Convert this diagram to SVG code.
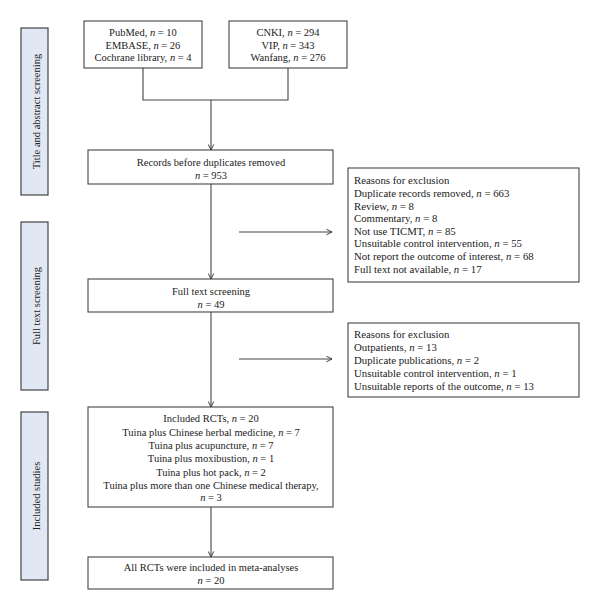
<svg xmlns="http://www.w3.org/2000/svg" width="600" height="612" viewBox="0 0 600 612">
<defs>
<marker id="arr" viewBox="0 0 10 10" refX="9" refY="5" markerWidth="7" markerHeight="7" orient="auto" markerUnits="userSpaceOnUse">
<polyline points="1,1 9,5 1,9" fill="none" stroke="#333" stroke-width="1.3"/>
</marker>
</defs>
<style>
text{font-family:"Liberation Serif","Times New Roman",serif;font-size:10.5px;fill:#222}
.c{text-anchor:middle}
.x{font-size:10.8px}
.box{fill:#fff;stroke:#444;stroke-width:1.1}
.bar{fill:#e1e8f3;stroke:#444;stroke-width:1.2}
.ln{fill:none;stroke:#444;stroke-width:1.1}
</style>
<rect width="600" height="612" fill="#fff"/>
<g id="bar-title">
<rect class="bar" x="21" y="28" width="27" height="167"/>
<text class="c" transform="translate(39.5,111.5) rotate(-90)">Title and abstract screening</text>
</g>
<g id="bar-fulltext">
<rect class="bar" x="21" y="222" width="27" height="168"/>
<text class="c" transform="translate(39.5,306) rotate(-90)">Full text screening</text>
</g>
<g id="bar-included">
<rect class="bar" x="21" y="412" width="27" height="168"/>
<text class="c" transform="translate(39.5,496) rotate(-90)">Included studies</text>
</g>
<g id="connectors">
<polyline class="ln" points="143,68 143,100 288,100 288,68"/>
<line class="ln" x1="211" y1="100" x2="211" y2="150" marker-end="url(#arr)"/>
<line class="ln" x1="211" y1="184" x2="211" y2="279" marker-end="url(#arr)"/>
<line class="ln" x1="239" y1="232" x2="332" y2="232" marker-end="url(#arr)"/>
<line class="ln" x1="211" y1="312" x2="211" y2="407" marker-end="url(#arr)"/>
<line class="ln" x1="239" y1="359" x2="332" y2="359" marker-end="url(#arr)"/>
<line class="ln" x1="211" y1="507" x2="211" y2="557" marker-end="url(#arr)"/>
</g>
<g id="db-english">
<rect class="box" x="84" y="21" width="118" height="47"/>
<text class="c" x="143" y="36">PubMed, <tspan font-style="italic">n</tspan> = 10</text>
<text class="c" x="143" y="48.5">EMBASE, <tspan font-style="italic">n</tspan> = 26</text>
<text class="c" x="143" y="61">Cochrane library,  <tspan font-style="italic">n</tspan> = 4</text>
</g>
<g id="db-chinese">
<rect class="box" x="229" y="21" width="118" height="47"/>
<text class="c" x="288" y="36">CNKI, <tspan font-style="italic">n</tspan> = 294</text>
<text class="c" x="288" y="48.5">VIP, <tspan font-style="italic">n</tspan> = 343</text>
<text class="c" x="288" y="61">Wanfang, <tspan font-style="italic">n</tspan> = 276</text>
</g>
<g id="records">
<rect class="box" x="88" y="150" width="245" height="34"/>
<text class="c" x="211" y="166">Records before duplicates removed</text>
<text class="c" x="211" y="178.5"><tspan font-style="italic">n</tspan> = 953</text>
</g>
<g id="exclusion1">
<rect class="box" x="348" y="168" width="231" height="114"/>
<text class="x" x="354" y="184">Reasons for exclusion</text>
<text class="x" x="354" y="197">Duplicate records removed, <tspan font-style="italic">n</tspan> = 663</text>
<text class="x" x="354" y="209.5">Review, <tspan font-style="italic">n</tspan> = 8</text>
<text class="x" x="354" y="222">Commentary, <tspan font-style="italic">n</tspan> = 8</text>
<text class="x" x="354" y="234.5">Not use TICMT, <tspan font-style="italic">n</tspan> = 85</text>
<text class="x" x="354" y="247">Unsuitable control intervention, <tspan font-style="italic">n</tspan> = 55</text>
<text class="x" x="354" y="260">Not report the outcome of interest, <tspan font-style="italic">n</tspan> = 68</text>
<text class="x" x="354" y="273">Full text not available, <tspan font-style="italic">n</tspan> = 17</text>
</g>
<g id="fulltext">
<rect class="box" x="88" y="279" width="245" height="33"/>
<text class="c" x="211" y="295">Full text screening</text>
<text class="c" x="211" y="307.5"><tspan font-style="italic">n</tspan> = 49</text>
</g>
<g id="exclusion2">
<rect class="box" x="348" y="323" width="231" height="74"/>
<text class="x" x="354" y="338">Reasons for exclusion</text>
<text class="x" x="354" y="351">Outpatients, <tspan font-style="italic">n</tspan> = 13</text>
<text class="x" x="354" y="364">Duplicate publications, <tspan font-style="italic">n</tspan> = 2</text>
<text class="x" x="354" y="377">Unsuitable control intervention, <tspan font-style="italic">n</tspan> = 1</text>
<text class="x" x="354" y="390">Unsuitable reports of the outcome, <tspan font-style="italic">n</tspan> = 13</text>
</g>
<g id="included">
<rect class="box" x="88" y="407" width="245" height="100"/>
<text class="c" x="211" y="422">Included RCTs, <tspan font-style="italic">n</tspan> = 20</text>
<text class="c" x="211" y="435.5">Tuina plus Chinese herbal medicine, <tspan font-style="italic">n</tspan> = 7</text>
<text class="c" x="211" y="449">Tuina plus acupuncture, <tspan font-style="italic">n</tspan> = 7</text>
<text class="c" x="211" y="462">Tuina plus moxibustion, <tspan font-style="italic">n</tspan> = 1</text>
<text class="c" x="211" y="475.5">Tuina plus hot pack, <tspan font-style="italic">n</tspan> = 2</text>
<text class="c" x="211" y="489">Tuina plus more than one Chinese medical therapy,</text>
<text class="c" x="211" y="501"><tspan font-style="italic">n</tspan> = 3</text>
</g>
<g id="all-rcts">
<rect class="box" x="88" y="557" width="245" height="32"/>
<text class="c" x="211" y="571">All RCTs were included in meta-analyses</text>
<text class="c" x="211" y="583.5"><tspan font-style="italic">n</tspan> = 20</text>
</g>
</svg>
